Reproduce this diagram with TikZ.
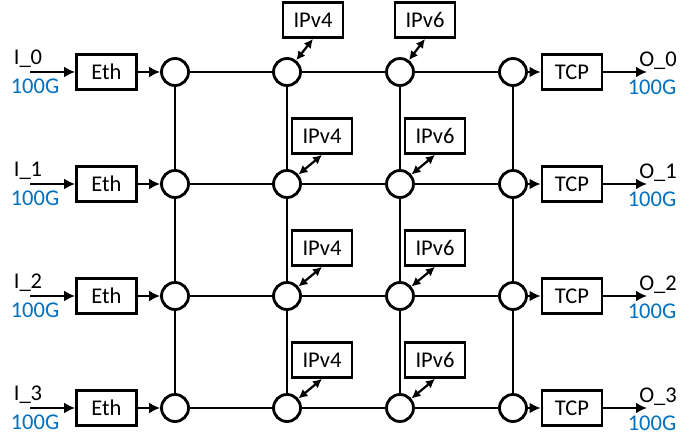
\documentclass[tikz,border=0pt]{standalone}
\usepackage{fontspec}
\setmainfont{Carlito}
\usetikzlibrary{arrows.meta}
\definecolor{offblue}{RGB}{0,112,192}
\begin{document}
\begin{tikzpicture}[x=1pt,y=-1pt,
  every node/.style={font=\fontsize{22.5}{24}\selectfont},
  blk/.style={draw,line width=2.8pt,minimum width=60pt,minimum height=35pt,inner sep=0pt},
  sw/.style={draw,circle,line width=2.8pt,minimum size=27pt,inner sep=0pt,fill=white},
  ln/.style={line width=2.6pt},
  ar/.style={line width=2.6pt,-{Latex[length=11pt,width=11pt]}},
  dar/.style={line width=2.2pt,{Latex[length=9pt,width=9pt]}-{Latex[length=9pt,width=9pt]}},
  lbl/.style={inner sep=0pt,font=\fontsize{22.5}{24}\selectfont},
  spd/.style={inner sep=0pt,text=offblue,font=\fontsize{22.5}{24}\selectfont}]
\useasboundingbox (0,0) rectangle (694,435);
\foreach \r/\y in {0/72,1/184,2/296,3/408}{
  \node[blk] (eth\r) at (106.5,\y) {Eth};
  \node[blk] (tcp\r) at (572,\y) {TCP};
  \node[sw] (c\r0) at (175,\y) {};
  \node[sw] (c\r1) at (287,\y) {};
  \node[sw] (c\r2) at (400,\y) {};
  \node[sw] (c\r3) at (513,\y) {};
  \coordinate (in\r) at (30,\y);
  \coordinate (out\r) at (647,\y);
  \node[lbl] (il\r) at (28,\y-13) {I\_\r};
  \node[spd] (is\r) at (35,\y+14) {100G};
  \node[lbl] (ol\r) at (658,\y-11) {O\_\r};
  \node[spd] (os\r) at (652,\y+15) {100G};
  \draw[ar] (in\r) -- (eth\r);
  \draw[ar] (eth\r) -- (c\r0);
  \draw[ln] (c\r0) -- (c\r1);
  \draw[ln] (c\r1) -- (c\r2);
  \draw[ln] (c\r2) -- (c\r3);
  \draw[ar] (c\r3) -- (tcp\r);
  \draw[ar] (tcp\r) -- (out\r);
}
\foreach \c in {0,1,2,3}{
  \draw[ln] (c0\c) -- (c1\c);
  \draw[ln] (c1\c) -- (c2\c);
  \draw[ln] (c2\c) -- (c3\c);
}
\node[blk] (v40) at (313,20) {IPv4};
\node[blk] (v60) at (425,20) {IPv6};
\foreach \r/\y in {1/136,2/248,3/360}{
  \node[blk] (v4\r) at (322,\y) {IPv4};
  \node[blk] (v6\r) at (435,\y) {IPv6};
}
\foreach \r in {0,1,2,3}{
  \draw[dar] (c\r1) -- (v4\r.south);
  \draw[dar] (c\r2) -- (v6\r.south);
}
\end{tikzpicture}
\end{document}
